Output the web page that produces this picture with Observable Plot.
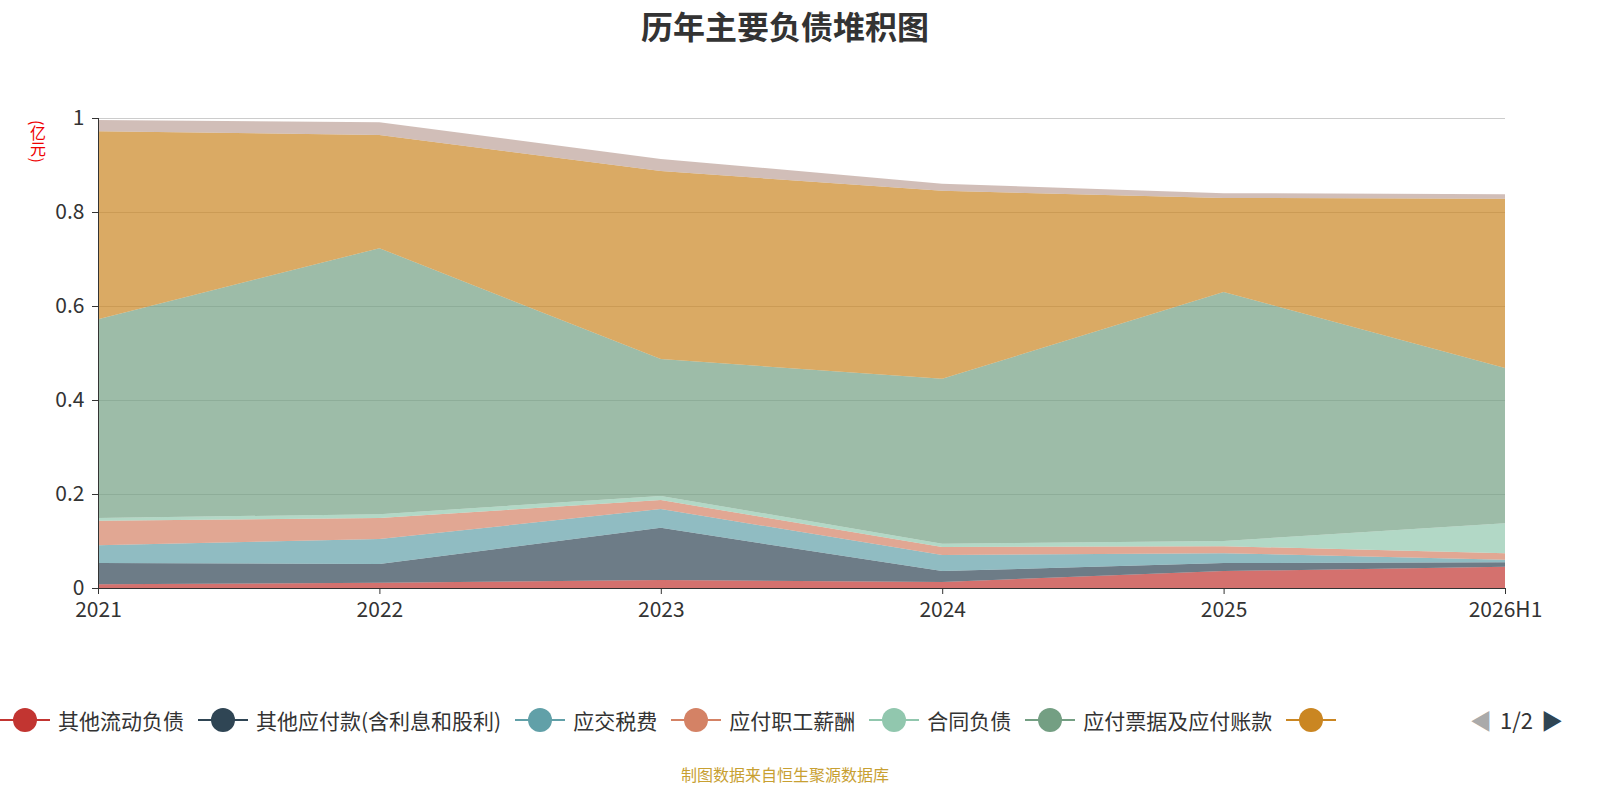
<!DOCTYPE html>
<html style="overflow:hidden"><head><meta charset="utf-8">
<script src="https://cdn.jsdelivr.net/npm/d3@7"></script>
<script src="https://cdn.jsdelivr.net/npm/@observablehq/plot@0.6"></script>
<style>
html,body{margin:0;overflow:hidden}
body{width:1600px;height:800px;position:relative;background:#fff;font-family:"Noto Sans CJK SC","Noto Sans",sans-serif}
#title{position:absolute;top:2px;left:0;width:1570px;text-align:center;font-size:32px;font-weight:bold;color:#333}
#chart{position:absolute;top:0;left:0;width:1600px}
#chart svg{max-width:none!important}
#unit{position:absolute;left:26px;top:120px;color:#e00;font-size:16px;writing-mode:vertical-rl}
#legend{position:absolute;top:703px;left:0;width:1600px;height:34px;display:flex;align-items:center;font-size:21px;color:#333;white-space:nowrap}
.it{display:flex;align-items:center;margin-right:14px}
.mk{position:relative;width:50px;height:24px;margin-right:8px}
.mk .l{position:absolute;left:0;right:0;top:11px;height:2px}
.mk .c{position:absolute;left:13px;top:0;width:24px;height:24px;border-radius:50%}
#caption{position:absolute;top:762px;left:0;width:1570px;text-align:center;color:#c8a032;font-size:16px}
</style></head><body>
<div id="title">历年主要负债堆积图</div>
<div id="chart"></div>
<div id="unit">(亿元)</div>
<div id="legend"></div>
<div id="caption">制图数据来自恒生聚源数据库</div>
<script>
const years = ["2021","2022","2023","2024","2025","2026H1"];
const seriesNames = ["其他流动负债","其他应付款(含利息和股利)","应交税费","应付职工薪酬","合同负债","应付票据及应付账款","短期借款","其他"];
const lineColors = ["#c23531","#2f4554","#61a0a8","#d48265","#91c7ae","#749f83","#ca8622","#bda29a"];
const v0 = [0.008,0.011,0.017,0.013,0.036,0.045];
const v1 = [0.045,0.040,0.111,0.023,0.017,0.010];
const v2 = [0.038,0.053,0.040,0.034,0.021,0.005];
const v3 = [0.052,0.045,0.019,0.017,0.015,0.014];
const v4 = [0.006,0.008,0.009,0.007,0.011,0.064];
const v5 = [0.423,0.566,0.291,0.351,0.530,0.330];
const v6 = [0.400,0.241,0.400,0.400,0.200,0.360];
const v7 = [0.024,0.027,0.026,0.015,0.010,0.010];
const vals = [v0,v1,v2,v3,v4,v5,v6,v7];
const data = [];
vals.forEach((arr,s)=>arr.forEach((v,i)=>data.push({i,s:seriesNames[s],v})));
const plot = Plot.plot({
  width:1600,height:640,marginLeft:98,marginRight:95,marginTop:118,marginBottom:52,
  style:{fontSize:"21px",color:"#333",fontFamily:"Noto Sans CJK SC, sans-serif"},
  x:{domain:[0,5],ticks:[0,1,2,3,4,5],tickFormat:i=>years[i],label:null,tickSize:6,tickPadding:8},
  y:{domain:[0,1],ticks:[0,0.2,0.4,0.6,0.8,1],tickFormat:d=>d===0?"0":d===1?"1":String(d),label:null,tickSize:6,tickPadding:8},
  color:{domain:seriesNames,range:lineColors},
  marks:[
    Plot.ruleY([0.2,0.4,0.6,0.8,1],{stroke:"#ccc"}),
    Plot.areaY(data,{x:"i",y:"v",z:"s",fill:"s",fillOpacity:0.7}),
    Plot.ruleX([0],{stroke:"#333"}),
    Plot.ruleY([0],{stroke:"#333"})
  ]
});
document.getElementById("chart").append(plot);
const lg=document.getElementById("legend");
seriesNames.slice(0,7).forEach((n,k)=>{
  const d=document.createElement("div");d.className="it";
  d.innerHTML=`<div class="mk"><div class="l" style="background:${lineColors[k]}"></div><div class="c" style="background:${lineColors[k]}"></div></div><span>${k<6?n:""}</span>`;
  lg.append(d);
});
const pg=document.createElement("div");
pg.style.cssText="position:absolute;left:1470px;top:0;display:flex;align-items:center;gap:8px;font-size:22px";
pg.innerHTML='<span style="color:#aaa">◀</span><span>1/2</span><span style="color:#2f4554">▶</span>';
lg.append(pg);
</script>
</body></html>
